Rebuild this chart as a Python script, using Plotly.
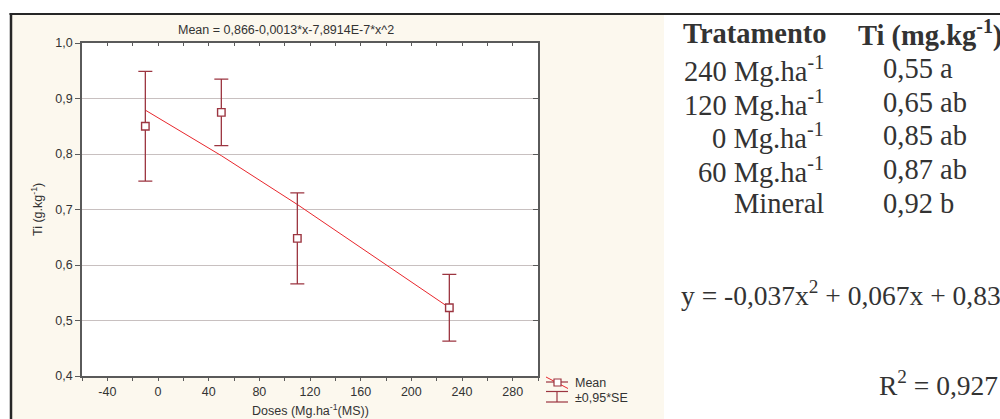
import plotly.graph_objects as go

# ---------------- data ----------------
doses = [-10, 50, 110, 230]
means = [0.85, 0.875, 0.648, 0.523]
se95 = [0.099, 0.06, 0.082, 0.06]

fit_x = [-10, 50, 110, 170, 230]
fit_y = [0.879, 0.797, 0.709, 0.616, 0.523]

x_tickvals = [-40, 0, 40, 80, 120, 160, 200, 240, 280]
x_ticktext = ["-40", "0", "40", "80", "120", "160", "200", "240", "280"]
y_tickvals = [0.4, 0.5, 0.6, 0.7, 0.8, 0.9, 1.0]
y_ticktext = ["0,4", "0,5", "0,6", "0,7", "0,8", "0,9", "1,0"]

treatments = ["240 Mg.ha<sup>-1</sup>", "120 Mg.ha<sup>-1</sup>", "0 Mg.ha<sup>-1</sup>",
              "60 Mg.ha<sup>-1</sup>", "Mineral"]
ti_values = ["0,55 a", "0,65 ab", "0,85 ab", "0,87 ab", "0,92 b"]

title_text = "Mean = 0,866-0,0013*x-7,8914E-7*x^2"
equation_text = "y = -0,037x<sup>2</sup> + 0,067x + 0,837"
r2_text = "R<sup>2</sup> = 0,927"

# ---------------- layout geometry ----------------
W, H = 1000, 419
L, R, T, B = 82, 538, 43, 376


def px(x):
    return (x - L) / (R - L)


def py(y):
    return (B - y) / (B - T)


DARKRED = "#9c3540"
FITRED = "#e8262c"
AXIS = "#5a5a5a"
TXT = "#333333"
SANS = "Liberation Sans, Arial, sans-serif"
SERIF = "Liberation Serif, Times New Roman, serif"
CREAM = "#fcf8ee"
SFS = 12.5

fig = go.Figure()

fig.add_trace(go.Scatter(
    x=fit_x, y=fit_y, mode="lines",
    line=dict(color=FITRED, width=1), showlegend=False, hoverinfo="skip"))

fig.add_trace(go.Scatter(
    x=doses, y=means, mode="markers",
    marker=dict(symbol="square", size=7.5, color="white",
                line=dict(color=DARKRED, width=1.4)),
    error_y=dict(type="data", array=se95, visible=True,
                 color=DARKRED, thickness=1.3, width=7),
    showlegend=False))

# empty trace for the mirrored (inside ticks) axes
fig.add_trace(go.Scatter(x=[None], y=[None], xaxis="x2", yaxis="y2",
                         showlegend=False, hoverinfo="skip"))

shapes = [
    # cream panel
    dict(type="rect", xref="paper", yref="paper", x0=px(12), x1=px(664),
         y0=py(15), y1=py(419), fillcolor=CREAM, line=dict(width=0), layer="below"),
    # plot area white
    dict(type="rect", xref="paper", yref="paper", x0=0, x1=1, y0=0, y1=1,
         fillcolor="white", line=dict(width=0), layer="below"),
    # frame lines
    dict(type="line", xref="paper", yref="paper", x0=px(9.5), x1=px(1000),
         y0=py(14), y1=py(14), line=dict(color="#262626", width=2)),
    dict(type="line", xref="paper", yref="paper", x0=px(11), x1=px(11),
         y0=py(13), y1=py(419), line=dict(color="#262626", width=2.5)),
    # legend symbols
    dict(type="line", xref="paper", yref="paper", x0=px(546), x1=px(568),
         y0=py(377), y1=py(388.5), line=dict(color=FITRED, width=1)),
    dict(type="line", xref="paper", yref="paper", x0=px(546), x1=px(568),
         y0=py(382), y1=py(382), line=dict(color=DARKRED, width=1.2)),
    dict(type="rect", xref="paper", yref="paper", x0=px(554), x1=px(561),
         y0=py(379), y1=py(386), fillcolor="white", line=dict(color=DARKRED, width=1.2)),
    dict(type="line", xref="paper", yref="paper", x0=px(546), x1=px(568),
         y0=py(391.5), y1=py(391.5), line=dict(color=DARKRED, width=1.2)),
    dict(type="line", xref="paper", yref="paper", x0=px(557), x1=px(557),
         y0=py(391.5), y1=py(402), line=dict(color=DARKRED, width=1.2)),
    dict(type="line", xref="paper", yref="paper", x0=px(546), x1=px(568),
         y0=py(402), y1=py(402), line=dict(color=DARKRED, width=1.2)),
]

annotations = [
    dict(text=title_text, x=px(286), y=py(30), xanchor="center", yanchor="middle",
         font=dict(family=SANS, size=SFS, color=TXT)),
    dict(text="Ti (g.kg<sup>-1</sup>)", x=px(37), y=py(210), textangle=-90,
         xanchor="center", yanchor="middle", font=dict(family=SANS, size=SFS, color=TXT)),
    dict(text="Doses (Mg.ha<sup>-1</sup>(MS))", x=px(310), y=py(410), xanchor="center",
         yanchor="middle", font=dict(family=SANS, size=SFS, color=TXT)),
    dict(text="Mean", x=px(573), y=py(383), xanchor="left", yanchor="middle",
         font=dict(family=SANS, size=SFS, color=TXT)),
    dict(text="±0,95*SE", x=px(573), y=py(397.5), xanchor="left", yanchor="middle",
         font=dict(family=SANS, size=SFS, color=TXT)),
]

FS = 28.5
FS2 = 27.5
ser = dict(family=SERIF, size=FS, color=TXT)
ser2 = dict(family=SERIF, size=FS2, color=TXT)
row_base = [78, 112, 145, 179, 213]
annotations.append(dict(text="<b>Tratamento</b>", x=px(681), y=py(43 - 0.33 * FS),
                        xanchor="left", yanchor="middle", font=ser))
annotations.append(dict(text="<b>Ti (mg.kg<sup>-1</sup>)</b>", x=px(856), y=py(43 - 0.33 * FS),
                        xanchor="left", yanchor="middle", font=ser))
for t, v, b in zip(treatments, ti_values, row_base):
    annotations.append(dict(text=t, x=px(826), y=py(b - 0.33 * FS), xanchor="right",
                            yanchor="middle", font=ser))
    annotations.append(dict(text=v, x=px(881), y=py(b - 0.33 * FS), xanchor="left",
                            yanchor="middle", font=ser))
annotations.append(dict(text=equation_text, x=px(679), y=py(303 - 0.33 * FS2),
                        xanchor="left", yanchor="middle", font=ser2))
annotations.append(dict(text=r2_text, x=px(877), y=py(393 - 0.33 * FS2),
                        xanchor="left", yanchor="middle", font=ser2))

for a in annotations:
    a.update(xref="paper", yref="paper", showarrow=False)

fig.update_layout(
    width=W, height=H,
    margin=dict(l=L, r=W - R, t=T, b=H - B, pad=0),
    paper_bgcolor="white", plot_bgcolor="white",
    showlegend=False,
    shapes=shapes, annotations=annotations,
    xaxis=dict(range=[-60, 300], tickvals=x_tickvals, ticktext=x_ticktext,
               ticks="outside", ticklen=3, tickwidth=1, tickcolor=AXIS,
               minor=dict(dtick=20, tick0=0, ticks="outside", ticklen=3, tickcolor=AXIS, showgrid=False),
               showline=True, linecolor=AXIS, linewidth=1.5, mirror=True,
               showgrid=False, zeroline=False,
               tickfont=dict(family=SANS, size=SFS, color=TXT)),
    yaxis=dict(range=[0.4, 1.0], tickvals=y_tickvals, ticktext=y_ticktext,
               ticks="outside", ticklen=5, tickwidth=1, tickcolor=AXIS,
               showline=True, linecolor=AXIS, linewidth=1.5, mirror=True,
               showgrid=True, gridcolor="#c8c0c0", gridwidth=1, zeroline=False,
               tickfont=dict(family=SANS, size=SFS, color=TXT)),
    xaxis2=dict(range=[-60, 300], overlaying="x", side="top", dtick=20, tick0=0,
                ticks="inside", ticklen=3, tickcolor=AXIS, showticklabels=False,
                showgrid=False, zeroline=False, showline=False),
    yaxis2=dict(range=[0.4, 1.0], overlaying="y", side="right", dtick=0.1, tick0=0.4,
                ticks="inside", ticklen=5, tickcolor=AXIS, showticklabels=False,
                showgrid=False, zeroline=False, showline=False),
)

fig.write_html("out.html")
